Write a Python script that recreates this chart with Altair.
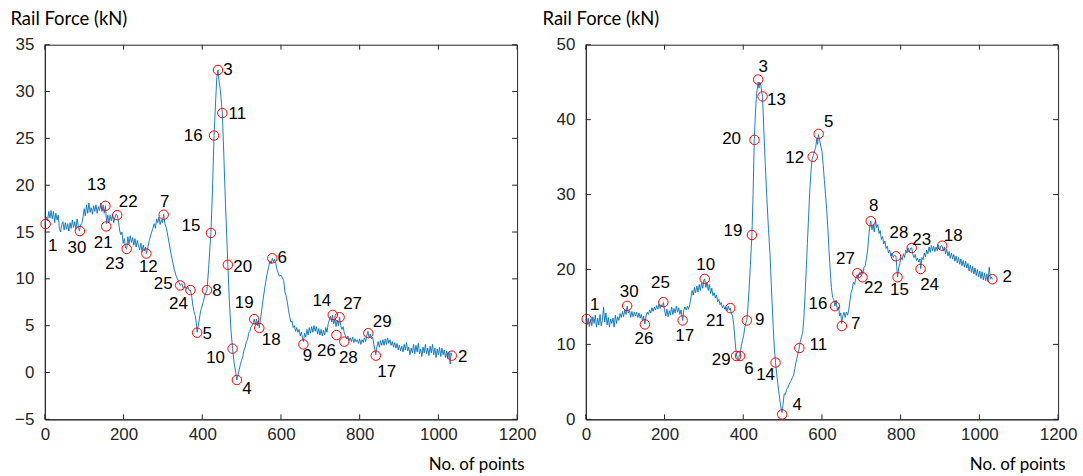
import altair as alt
import pandas as pd

# ---------------- data: left panel ----------------
left_idx = [0,4,7,10,13,16,19,22,25,28,31,34,37,40,43,46,49,52,55,58,61,64,67,70,73,76,79,82,85,88,91,94,97,
            100,103,106,109,112,115,118,121,124,127,130,133,136,139,142,145,148,151,154,157,160,163,166,169,172,175,178,181,184,187,190,193,196,199,
            202,205,208,211,214,217,220,223,226,229,232,235,238,241,244,247,250,253,256,258,262,266,270,274,278,281,284,287,290,293,296,299,
            302,305,309,313,317,321,325,329,333,337,341,344,348,352,356,360,364,368,370,373,376,379,382,385,387,390,393,396,399,
            403,407,412,416,419,422,426,430,434,437,440,443,446,449,451,455,459,462,465,469,473,477,481,485,488,491,494,497,
            500,503,506,509,512,515,518,521,524,527,530,532,535,538,541,543,545,549,553,557,561,565,569,572,575,578,581,584,587,590,593,596,
            600,604,607,610,613,616,619,622,625,628,631,634,637,640,643,646,649,652,655,657,660,663,666,669,672,675,678,681,684,687,690,693,696,699,
            702,705,708,711,714,717,720,723,726,729,731,734,737,740,743,746,749,752,755,758,761,764,767,770,773,776,779,782,785,788,791,794,797,
            800,803,806,809,812,815,818,821,824,827,830,833,836,839,841,844,847,850,853,856,859,862,865,868,871,874,877,880,883,886,889,892,895,898,
            901,904,907,910,913,916,919,922,925,928,931,934,937,940,943,946,949,952,955,958,961,964,967,970,973,976,979,982,985,988,991,994,997,
            1000,1003,1006,1009,1012,1015,1018,1021,1024,1027,1030,1032,1034]
left_val = [15.8,16.6,16.2,17.2,16.5,17.3,16.4,17.2,16.0,17.0,16.3,16.8,15.4,15.0,15.8,16.1,15.2,16.0,15.3,15.9,15.1,16.0,15.4,16.3,15.5,16.1,15.3,16.4,15.6,15.1,15.8,15.9,16.6,
            17.5,16.7,17.9,17.0,18.1,17.1,17.6,16.9,17.8,17.2,17.9,17.0,17.7,17.3,18.1,17.2,17.9,17.0,17.8,15.9,16.8,16.0,16.8,16.2,16.9,16.0,16.5,16.9,16.8,16.2,15.2,14.7,15.0,13.8,
            14.3,13.3,13.2,14.5,13.7,14.6,13.9,14.4,13.6,14.3,13.4,14.1,13.5,13.1,13.8,12.9,13.6,13.0,13.4,12.7,13.4,14.2,14.8,15.3,15.9,15.4,16.4,16.0,16.6,15.8,16.3,16.0,
            16.9,15.9,15.4,14.5,13.5,12.6,11.8,11.0,10.4,10.0,9.6,9.3,9.5,9.0,9.2,8.9,9.1,8.7,8.8,8.2,7.2,6.5,6.1,5.3,4.3,5.0,5.8,6.6,7.0,
            7.6,8.3,8.8,11.0,13.0,14.9,19.5,25.3,29.0,31.5,32.3,31.0,30.2,28.7,27.7,23.0,18.0,14.8,11.5,7.5,4.5,2.55,1.0,0.0,-0.8,-0.2,0.3,0.9,
            1.3,1.7,2.4,2.7,3.3,3.5,4.2,4.4,4.9,5.0,5.4,5.7,5.1,5.7,5.0,5.5,4.75,6.0,7.3,8.5,9.6,10.6,11.3,11.9,11.6,12.2,11.8,12.1,11.6,11.0,10.6,10.3,
            10.4,10.1,9.8,8.6,8.2,7.6,6.7,6.0,5.4,5.5,4.8,5.0,4.4,4.8,4.3,4.6,3.9,4.3,3.6,3.3,4.2,3.8,4.6,4.0,4.8,4.2,4.9,4.3,5.0,4.4,4.9,4.1,4.7,4.0,
            4.6,3.9,4.5,4.0,4.8,4.3,5.2,5.6,6.0,5.4,6.15,5.2,5.7,4.9,5.6,5.0,5.9,5.0,4.6,4.9,4.2,3.9,3.6,3.9,3.4,3.7,3.3,3.8,3.2,3.6,3.3,3.5,3.1,
            3.6,3.0,3.5,3.2,3.7,3.3,3.9,4.4,3.7,4.1,3.6,3.8,3.0,2.4,1.9,2.8,3.3,2.7,3.4,2.9,3.5,2.9,3.6,3.0,3.7,3.1,3.5,2.9,3.3,2.7,3.2,2.6,3.1,2.4,
            2.9,2.3,2.8,2.2,3.0,2.4,3.2,2.3,2.7,1.9,2.6,2.1,3.0,2.0,2.9,2.2,3.1,2.0,2.5,1.7,2.7,2.1,3.0,2.0,2.6,1.8,2.8,2.1,3.0,1.9,2.6,1.6,2.5,
            1.9,2.7,1.7,2.6,1.9,2.4,1.6,2.3,1.5,2.2,0.9,2.1,1.8]

left_pt_idx = [2,89,154,156,184,208,258,302,422,430,440,451,465,344,370,412,387,477,488,532,545,578,657,731.6,749,741,761,822,841,1034]
left_pt_val = [15.85,15.1,17.8,15.6,16.8,13.2,12.7,16.85,14.9,25.3,32.3,27.7,11.5,9.3,8.8,8.8,4.25,2.55,-0.8,5.7,4.75,12.2,3.0,6.15,5.9,4.0,3.3,4.2,1.8,1.8]
left_pt_lab = ["1","30","13","21","22","23","12","7","15","16","3","11","20","25","24","8","5","10","4","19","18","6","9","14","27","26","28","29","17","2"]
left_lab_dx = [7,-3,-9,-3,11,-12,2,1,-20,-21,10,15,15,-17,-12,10,10,-17,10,-10,12,10,4,-11,13,-10,4,14,11,11]
left_lab_dy = [22,17,-21,17,-13,15,14,-13,-7,0,0,1,2,-1,14,1,1,9,9,-16,12,0,12,-14,-13,16,16,-11,16,1]

# ---------------- data: right panel ----------------
right_idx = [0,3,6,9,12,15,18,21,24,27,30,33,36,39,42,45,48,51,54,57,60,63,66,69,72,75,78,81,84,87,90,93,96,99,
             102,105,108,111,114,117,120,123,126,129,132,135,138,141,144,147,150,153,156,159,162,165,168,171,174,177,180,183,186,189,192,195,197,
             200,203,206,209,212,215,218,221,224,227,230,233,236,239,242,246,249,252,255,258,261,264,267,270,273,276,279,282,285,288,291,294,297,
             300,302,305,308,311,314,317,320,323,326,329,332,335,338,341,344,347,350,353,356,359,362,365,367,370,373,376,379,382,385,388,390,392,395,398,
             401,404,407,409,412,415,418,422,425,428,431,434,436,438,440,442,445,447,449,452,456,460,464,468,472,476,479,482,486,490,494,497,499,
             501,504,507,510,513,516,519,522,525,528,531,534,537,540,542,545,548,551,554,557,560,563,566,569,572,575,578,581,584,587,589,591,594,597,
             600,603,606,609,612,615,618,621,624,627,630,633,636,639,642,645,648,650,653,656,659,662,665,668,671,674,677,680,683,686,689,692,695,698,
             701,704,707,710,713,716,719,722,724,727,730,733,736,739,742,745,748,751,754,757,760,763,766,769,772,775,778,781,784,788,790,792,795,798,
             801,804,807,810,813,816,819,822,825,828,831,834,837,840,843,846,849,851,854,857,860,863,866,869,872,875,878,881,884,887,890,893,896,899,
             902,905,908,911,914,917,920,923,926,929,932,935,938,941,944,947,950,953,956,959,962,965,968,971,974,977,980,983,986,989,992,995,998,
             1001,1004,1007,1010,1013,1016,1019,1022,1025,1028,1031,1033]
right_val = [13.4,12.6,13.5,12.4,13.3,12.5,13.7,12.8,13.9,12.3,13.5,12.6,14.0,12.5,13.2,15.0,13.0,14.2,12.6,13.6,12.3,13.4,12.8,13.5,12.3,13.9,12.8,13.7,13.2,14.1,13.6,14.4,13.7,14.6,
             14.0,15.1,14.2,14.5,13.6,14.4,13.7,14.3,13.8,14.3,13.6,14.2,13.5,14.0,13.1,13.8,12.7,13.8,14.3,14.0,14.6,14.2,14.9,14.4,15.0,14.6,15.2,14.7,15.4,14.8,15.3,15.0,15.6,
             14.6,13.8,14.7,13.7,14.5,13.9,15.0,14.0,14.8,14.2,15.1,14.3,14.9,14.0,14.6,13.2,14.6,15.0,14.6,15.1,14.7,15.3,16.2,17.2,16.6,17.6,16.9,17.8,17.0,18.0,17.2,18.2,17.5,
             18.6,18.75,17.6,18.3,17.2,18.0,16.8,17.5,16.5,16.9,16.2,16.6,15.7,16.0,15.3,15.6,14.9,15.2,14.7,15.0,14.5,15.1,14.6,14.85,14.1,13.8,12.5,10.6,8.9,8.1,7.9,8.6,8.5,9.8,10.5,
             11.2,12.3,12.9,13.2,15.0,17.5,20.5,24.6,30.0,37.3,41.0,43.5,44.2,45.0,44.2,45.0,44.5,43.6,43.1,39.0,34.0,29.5,25.5,22.0,17.0,12.5,9.5,7.58,5.6,3.8,2.2,1.2,0.9,
             2.0,3.4,3.3,4.0,4.2,4.6,4.9,5.2,5.6,5.9,6.8,7.6,8.3,9.0,9.5,10.4,11.0,11.6,13.5,16.5,20.0,23.5,27.0,30.5,33.0,34.8,35.2,35.8,36.3,37.5,36.7,38.0,37.3,36.5,
             35.8,34.0,32.0,30.0,28.0,25.5,22.5,19.8,17.6,16.3,16.0,15.1,15.9,14.6,15.0,13.8,14.2,12.8,13.8,14.3,13.6,14.3,13.9,14.6,15.8,16.9,17.4,18.3,18.0,18.8,19.3,19.0,19.6,19.3,
             19.9,19.5,20.3,20.5,21.5,22.6,24.5,26.0,26.45,25.3,26.0,25.0,26.6,25.6,26.0,24.8,25.2,24.0,24.4,23.4,23.8,22.8,23.1,22.2,22.6,21.8,22.2,21.6,21.9,21.8,20.4,19.0,20.2,20.8,
             21.6,21.3,22.1,21.6,22.6,22.2,22.9,22.3,22.8,22.9,22.0,21.6,22.0,21.2,21.5,21.0,21.4,20.1,21.6,21.3,22.2,21.7,22.6,22.1,23.0,22.3,23.2,22.5,23.1,22.4,23.0,22.5,23.3,22.6,
             23.1,23.2,22.5,23.0,22.1,22.7,21.8,22.4,21.5,22.2,21.4,22.0,21.1,21.8,20.9,21.6,20.7,21.4,20.5,21.2,20.3,21.1,20.2,20.8,19.8,20.6,19.6,20.4,19.4,20.2,19.2,20.0,19.0,
             19.8,18.8,19.7,18.6,19.5,18.5,19.4,18.4,20.3,18.7,19.0,18.7]

right_pt_idx = [2,105,150,197,246,302,367,409,382,392,422,428.6,438,449,482,499,542.5,576.4,591.6,633,690,724,650.6,703,788,792,828,850.6,905.5,1033]
right_pt_val = [13.4,15.15,12.67,15.64,13.2,18.75,14.85,13.2,8.46,8.46,24.6,37.3,45.35,43.1,7.58,0.66,9.52,35.05,38.1,15.1,19.5,26.45,12.45,18.96,21.76,18.96,22.87,20.07,23.18,18.7]
right_pt_lab = ["1","30","26","25","17","10","21","9","29","6","19","20","3","13","14","4","11","12","5","16","27","8","7","22","28","15","23","24","18","2"]
right_lab_dx = [8,2,-1,-3,2,1,-15,13,-15,9,-19,-23,5,14,-10,15,19,-18,10,-17,-12,3,14,11,3,2,10,9,11,15]
right_lab_dy = [-14,-14,15,-19,16,-14,13,0,4,13,-4,-1,-13,4,13,-9,-3,1,-12,-2,-14,-15,-2,11,-23,13,-8,16,-10,-2]

x_ticks = [0, 200, 400, 600, 800, 1000, 1200]
left_y_ticks = [-5, 0, 5, 10, 15, 20, 25, 30, 35]
right_y_ticks = [0, 10, 20, 30, 40, 50]

W, H = 474, 376
AX = "#262626"
NUM_FONT = "Liberation Sans"
TITLE_FONT = "Lato"


def panel(idx, val, pidx, pval, plab, pdx, pdy, yticks, ydom, title_x):
    line_df = pd.DataFrame({"idx": idx, "val": val})
    pt_df = pd.DataFrame({"idx": pidx, "val": pval, "lab": plab, "dx": pdx, "dy": pdy})
    xt_df = pd.DataFrame({"t": x_ticks})
    yt_df = pd.DataFrame({"t": yticks})

    xs = alt.Scale(domain=[0, 1200], nice=False, zero=False)
    ys = alt.Scale(domain=ydom, nice=False, zero=False)

    x_axis = alt.Axis(values=x_ticks, format="d", tickSize=0, labelFont=NUM_FONT, labelFontSize=17,
                      labelColor=AX, labelPadding=7, domainColor=AX, grid=False,
                      labelFlush=False, labelOverlap=False,
                      title="No. of points", titleFont=TITLE_FONT, titleFontSize=17,
                      titleFontWeight="normal", titleColor="#000000", titleAlign="right",
                      titleX=W + 7, titleY=50, titleBaseline="alphabetic")
    y_axis = alt.Axis(values=yticks, format="d", tickSize=0, labelFont=NUM_FONT, labelFontSize=17,
                      labelColor=AX, labelPadding=11, domainColor=AX, grid=False,
                      labelFlush=False, labelOverlap=False,
                      title="Rail Force (kN)", titleFont=TITLE_FONT, titleFontSize=18.5,
                      titleFontWeight="normal", titleColor="#000000", titleAngle=0,
                      titleAlign="left", titleX=title_x, titleY=-20, titleBaseline="alphabetic")

    line = alt.Chart(line_df).mark_line(color="#0072BD", strokeWidth=0.9).encode(
        x=alt.X("idx:Q", scale=xs, axis=x_axis),
        y=alt.Y("val:Q", scale=ys, axis=y_axis),
        order="idx:Q",
    )
    pts = alt.Chart(pt_df).mark_point(shape="circle", filled=False, color="#FF0000",
                                      size=90, strokeWidth=1, opacity=1).encode(
        x="idx:Q", y="val:Q")

    # one text layer per distinct label offset
    label_layers = []
    for (dx, dy), sub in pt_df.groupby(["dx", "dy"]):
        label_layers.append(
            alt.Chart(sub.reset_index(drop=True)).mark_text(
                font=NUM_FONT, fontSize=17, color="#000000", align="center",
                baseline="middle", dx=int(dx), dy=int(dy)
            ).encode(x="idx:Q", y="val:Q", text="lab:N")
        )

    tb = alt.Chart(xt_df).mark_rule(color=AX, strokeWidth=1).encode(
        x="t:Q", y=alt.value(H - 5), y2=alt.value(H))
    tt = alt.Chart(xt_df).mark_rule(color=AX, strokeWidth=1).encode(
        x="t:Q", y=alt.value(0), y2=alt.value(5))
    tl = alt.Chart(yt_df).mark_rule(color=AX, strokeWidth=1).encode(
        y="t:Q", x=alt.value(0), x2=alt.value(5))
    tr = alt.Chart(yt_df).mark_rule(color=AX, strokeWidth=1).encode(
        y="t:Q", x=alt.value(W - 5), x2=alt.value(W))

    return alt.layer(line, tb, tt, tl, tr, pts, *label_layers).properties(width=W, height=H)


left = panel(left_idx, left_val, left_pt_idx, left_pt_val, left_pt_lab, left_lab_dx, left_lab_dy,
             left_y_ticks, [-5, 35], -35)
right = panel(right_idx, right_val, right_pt_idx, right_pt_val, right_pt_lab, right_lab_dx, right_lab_dy,
              right_y_ticks, [0, 50], -44)

chart = alt.hconcat(left, right, spacing=4).properties(
    padding={"left": 9, "top": 8, "right": 5, "bottom": 5},
    background="white",
).configure_view(stroke=AX, strokeWidth=1)

chart.save("out.html", embed_options={"renderer": "svg", "actions": False})
